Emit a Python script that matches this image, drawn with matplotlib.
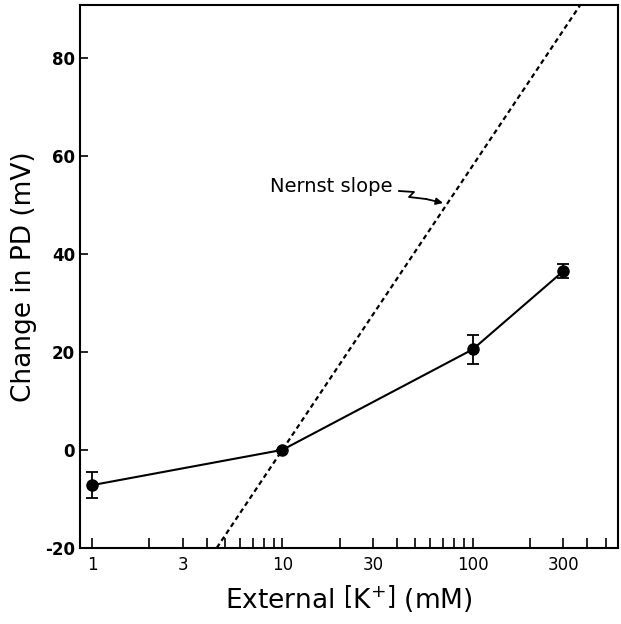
import numpy as np
import matplotlib
matplotlib.use("Agg")
import matplotlib.pyplot as plt
from matplotlib.ticker import FixedLocator, NullFormatter

# data
k_ext = [1, 10, 100, 300]          # mM
dpd = [-7.2, 0.0, 20.5, 36.5]      # mV
dpd_err = [2.6, 0.0, 3.0, 1.5]
nernst_slope = 58.0                # mV per decade
nernst_ref = 10                    # line passes through 0 mV at 10 mM

xticks = [1, 3, 10, 30, 100, 300]
xticklabels = ["1", "3", "10", "30", "100", "300"]
yticks = [-20, 0, 20, 40, 60, 80]

plt.rcParams["font.family"] = ["DejaVu Sans"]
plt.rcParams["mathtext.fontset"] = "custom"
plt.rcParams["mathtext.rm"] = "DejaVu Sans"

W, H = 621, 624
fig = plt.figure(figsize=(W / 100, H / 100), dpi=100)
ax = fig.add_axes([0.129, 0.122, 0.866, 0.870])

# Nernst line
xl = np.array([0.8, 1000])
ax.plot(xl, nernst_slope * np.log10(xl / nernst_ref), ls=(0, (2.2, 1.6)),
        color="black", lw=1.6)

# measured values
ax.errorbar(k_ext, dpd, yerr=dpd_err, fmt="-o", color="black", lw=1.5,
            ms=8, capsize=4, elinewidth=1.3, capthick=1.3)

# label with a little squiggle pointing to the line
fig.text(393 / W, 1 - 187 / H, "Nernst slope", fontsize=14, ha="right", va="center")
sq = [(399, 191), (414, 192), (409, 197), (426, 199)]
fig.add_artist(plt.Line2D([p[0] / W for p in sq], [1 - p[1] / H for p in sq],
                          color="black", lw=1.3))
ax.annotate("", xy=(443 / W, 1 - 203 / H), xycoords="figure fraction",
            xytext=(426 / W, 1 - 199 / H), textcoords="figure fraction",
            arrowprops=dict(arrowstyle="-|>", color="black", lw=1.3,
                            shrinkA=0, shrinkB=0, mutation_scale=10))

ax.set_xscale("log")
ax.set_xlim(0.865, 580)
ax.set_ylim(-20, 90.8)
ax.xaxis.set_major_locator(FixedLocator(xticks))
ax.set_xticklabels(xticklabels, fontsize=12)
ax.xaxis.set_minor_locator(FixedLocator([2, 4, 5, 6, 7, 8, 9, 20, 40, 50, 60, 70, 80, 90, 200, 400, 500]))
ax.xaxis.set_minor_formatter(NullFormatter())
ax.set_yticks(yticks)
ax.set_yticklabels([str(v) for v in yticks], fontsize=12, fontweight="bold")
ax.tick_params(which="both", direction="in", length=6, width=1.2)
ax.tick_params(axis="x", which="both", direction="in", length=7, pad=6)

for s in ax.spines.values():
    s.set_linewidth(1.5)

ax.set_xlabel(r"External $\left[\mathrm{K}^{+}\right]$ (mM)", fontsize=19, labelpad=6)
ax.set_ylabel("Change in PD (mV)", fontsize=19, labelpad=6)

fig.savefig("out.png", dpi=100)
